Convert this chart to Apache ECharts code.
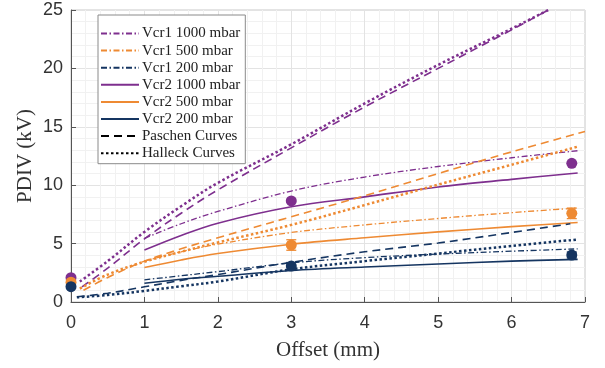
<!DOCTYPE html>
<html>
<head>
<meta charset="utf-8">
<style>
  html, body { margin: 0; padding: 0; background: #ffffff; }
  #chart { width: 605px; height: 368px; }
</style>
<script src="https://cdn.jsdelivr.net/npm/echarts@6/dist/echarts.min.js"></script>
</head>
<body>
<div id="chart"></div>
<script>
// Measured PDIV points (offset in mm, voltage in kV) with error half-widths
const measuredOffset = [0, 3, 6.82];
const measured1000 = [2.08, 8.65, 11.87];
const measured500 = [1.69, 4.88, 7.59];
const measured200 = [1.31, 3.08, 4.02];
const err1000 = [0, 0, 0];
const err500 = [0, 0.45, 0.45];
const err200 = [0, 0.3, 0.25];

// Simulated critical voltages Vcr1 / Vcr2
const vcrOffset = [1, 1.5, 2, 3, 4, 5, 6, 6.9];
const vcr1_1000 = [5.45, 6.7, 7.75, 9.5, 10.7, 11.6, 12.35, 12.95];
const vcr1_500 = [3.5, 4.3, 4.95, 5.95, 6.6, 7.15, 7.65, 8.05];
const vcr1_200 = [1.9, 2.25, 2.6, 3.35, 3.8, 4.1, 4.35, 4.55];
const vcr2_1000 = [4.45, 5.7, 6.75, 8.15, 9.0, 9.85, 10.5, 11.05];
const vcr2_500 = [2.95, 3.6, 4.15, 4.95, 5.5, 6.0, 6.45, 6.8];
const vcr2_200 = [1.6, 1.95, 2.2, 2.7, 3.0, 3.25, 3.5, 3.65];

// Paschen curves
const paschenOffset1000 = [0.15, 0.5, 1, 1.5, 2, 3, 4, 5, 6, 6.5];
const paschen1000 = [1.3, 2.9, 5.4, 7.6, 9.6, 13.2, 16.7, 20.0, 23.3, 25.0];
const paschenOffset500 = [0.17, 0.5, 1, 1.5, 2, 3, 4, 5, 6, 7];
const paschen500 = [1.0, 2.1, 3.5, 4.55, 5.5, 7.3, 9.1, 11.0, 12.85, 14.6];
const paschenOffset200 = [0.08, 0.5, 1, 1.5, 2, 3, 4, 5, 6, 6.8];
const paschen200 = [0.45, 0.75, 1.3, 1.85, 2.35, 3.4, 4.3, 5.05, 5.95, 6.7];

// Halleck curves
const halleckOffset1000 = [0.12, 0.5, 1, 1.5, 2, 3, 4, 5, 6, 6.5];
const halleck1000 = [1.75, 3.5, 6.0, 8.2, 10.2, 13.5, 17.0, 20.3, 23.4, 25.0];
const halleckOffset500 = [0.12, 0.5, 1, 1.5, 2, 3, 4, 5, 6, 6.9];
const halleck500 = [1.15, 2.35, 3.45, 4.3, 5.1, 6.6, 8.3, 10.05, 11.75, 13.3];
const halleckOffset200 = [0.08, 0.5, 1, 1.5, 2, 3, 4, 5, 6, 6.9];
const halleck200 = [0.4, 0.6, 0.95, 1.35, 1.75, 2.8, 3.5, 4.15, 4.8, 5.35];

// Axis ticks
const xTicks = [0, 1, 2, 3, 4, 5, 6, 7];
const yTicks = [0, 5, 10, 15, 20, 25];

const legendNames = ['Vcr1 1000 mbar', 'Vcr1 500 mbar', 'Vcr1 200 mbar',
  'Vcr2 1000 mbar', 'Vcr2 500 mbar', 'Vcr2 200 mbar', 'Paschen Curves', 'Halleck Curves'];

const PURPLE = '#7E2F8E';
const ORANGE = '#EE8A33';
const NAVY = '#153561';

const DASHDOT = [6, 2.5, 1.5, 2.5];
const DASHED = [8, 5];
const DOTTED = [2.5, 2.5];

function pairs(xs, ys) { return xs.map((x, i) => [x, ys[i]]); }

function lineSeries(name, xs, ys, color, type, width) {
  return {
    name: name, type: 'line', data: pairs(xs, ys),
    symbol: 'none', smooth: 0.35, color: color,
    lineStyle: { color: color, width: width, type: type },
    z: 3, silent: true
  };
}

function dotSeries(name, ys, color) {
  return {
    name: name, type: 'scatter', data: pairs(measuredOffset, ys),
    symbol: 'circle', symbolSize: 11, itemStyle: { color: color, opacity: 1 },
    z: 6, silent: true
  };
}

function errorSeries(name, ys, errs, color) {
  return {
    name: name, type: 'custom', z: 5, silent: true,
    data: measuredOffset.map((x, i) => [x, ys[i], errs[i]]),
    renderItem: function (params, api) {
      const x = api.value(0), y = api.value(1), e = api.value(2);
      if (!e) return null;
      const lo = api.coord([x, y - e]);
      const hi = api.coord([x, y + e]);
      const w = 5;
      const st = { stroke: color, lineWidth: 1.3 };
      return {
        type: 'group',
        children: [
          { type: 'line', shape: { x1: lo[0], y1: lo[1], x2: hi[0], y2: hi[1] }, style: st },
          { type: 'line', shape: { x1: lo[0] - w, y1: lo[1], x2: lo[0] + w, y2: lo[1] }, style: st },
          { type: 'line', shape: { x1: hi[0] - w, y1: hi[1], x2: hi[0] + w, y2: hi[1] }, style: st }
        ]
      };
    }
  };
}

const series = [
  lineSeries('Vcr1 1000 mbar', vcrOffset, vcr1_1000, PURPLE, DASHDOT, 1.3),
  lineSeries('Vcr1 500 mbar', vcrOffset, vcr1_500, ORANGE, DASHDOT, 1.3),
  lineSeries('Vcr1 200 mbar', vcrOffset, vcr1_200, NAVY, DASHDOT, 1.3),
  lineSeries('Vcr2 1000 mbar', vcrOffset, vcr2_1000, PURPLE, 'solid', 1.6),
  lineSeries('Vcr2 500 mbar', vcrOffset, vcr2_500, ORANGE, 'solid', 1.6),
  lineSeries('Vcr2 200 mbar', vcrOffset, vcr2_200, NAVY, 'solid', 1.6),
  lineSeries('Paschen 1000', paschenOffset1000, paschen1000, PURPLE, DASHED, 1.6),
  lineSeries('Paschen 500', paschenOffset500, paschen500, ORANGE, DASHED, 1.6),
  lineSeries('Paschen 200', paschenOffset200, paschen200, NAVY, DASHED, 1.6),
  lineSeries('Halleck 1000', halleckOffset1000, halleck1000, PURPLE, DOTTED, 2.5),
  lineSeries('Halleck 500', halleckOffset500, halleck500, ORANGE, DOTTED, 2.5),
  lineSeries('Halleck 200', halleckOffset200, halleck200, NAVY, DOTTED, 2.5),
  // legend-only entries for the curve families
  { name: 'Paschen Curves', type: 'line', data: [], symbol: 'none', color: '#000',
    lineStyle: { color: '#000', width: 1.8, type: DASHED } },
  { name: 'Halleck Curves', type: 'line', data: [], symbol: 'none', color: '#000',
    lineStyle: { color: '#000', width: 2.5, type: DOTTED } },
  errorSeries('err1000', measured1000, err1000, PURPLE),
  errorSeries('err500', measured500, err500, ORANGE),
  errorSeries('err200', measured200, err200, NAVY),
  dotSeries('PDIV 1000', measured1000, PURPLE),
  dotSeries('PDIV 500', measured500, ORANGE),
  dotSeries('PDIV 200', measured200, NAVY)
];

const chart = echarts.init(document.getElementById('chart'), null, { renderer: 'canvas' });
chart.setOption({
  animation: false,
  backgroundColor: '#ffffff',
  grid: {
    left: 71, right: 20, top: 10, bottom: 66,
    show: true, borderColor: '#c8c8c8', borderWidth: 1, backgroundColor: 'transparent'
  },
  legend: {
    data: legendNames,
    orient: 'vertical',
    left: 98, top: 15,
    padding: [11, 5, 3, 2],
    itemWidth: 38, itemHeight: 14, itemGap: 2.1,
    backgroundColor: '#ffffff',
    borderColor: '#8a8a8a', borderWidth: 1,
    selectedMode: false,
    itemStyle: { opacity: 0 },
    textStyle: {
      fontFamily: 'Liberation Serif', fontSize: 15, color: '#222',
      lineHeight: 15, padding: [0, 0, 0, -2]
    }
  },
  xAxis: {
    type: 'value', min: 0, max: 7, interval: 1,
    name: 'Offset (mm)', nameLocation: 'middle', nameGap: 38,
    nameMoveOverlap: false,
    nameTextStyle: { fontFamily: 'Liberation Serif', fontSize: 21, color: '#333' },
    axisLine: { onZero: false, lineStyle: { color: '#555', width: 1 } },
    axisTick: { inside: true, length: 5, lineStyle: { color: '#555' } },
    axisLabel: {
      fontFamily: 'Liberation Sans', fontSize: 18, color: '#333', margin: 12,
      formatter: v => (xTicks.indexOf(v) >= 0 ? String(v) : '')
    },
    splitLine: { show: true, lineStyle: { color: '#e3e3e3', width: 1 } },
    minorTick: { show: false, splitNumber: 5 },
    minorSplitLine: { show: true, lineStyle: { color: '#f1f1f1', width: 1 } }
  },
  yAxis: {
    type: 'value', min: 0, max: 25, interval: 5,
    name: 'PDIV (kV)', nameLocation: 'middle', nameGap: 35,
    nameMoveOverlap: false,
    nameTextStyle: { fontFamily: 'Liberation Serif', fontSize: 21, color: '#333' },
    axisLine: { show: true, onZero: false, lineStyle: { color: '#555', width: 1 } },
    axisTick: { show: true, inside: true, length: 5, lineStyle: { color: '#555' } },
    axisLabel: {
      fontFamily: 'Liberation Sans', fontSize: 18, color: '#333', margin: 8,
      formatter: v => (yTicks.indexOf(v) >= 0 ? String(v) : '')
    },
    splitLine: { show: true, lineStyle: { color: '#e3e3e3', width: 1 } },
    minorTick: { show: false, splitNumber: 5 },
    minorSplitLine: { show: true, lineStyle: { color: '#f1f1f1', width: 1 } }
  },
  series: series
});
</script>
</body>
</html>
